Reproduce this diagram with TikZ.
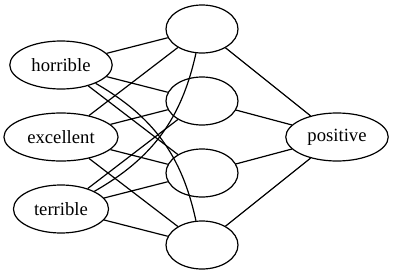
\documentclass[tikz,border=0pt]{standalone}
\usepackage{fontspec}
\setmainfont{Liberation Serif}
\usetikzlibrary{shapes}

\begin{document}
\begin{tikzpicture}[x=0.75pt, y=-0.75pt, line width=0.9pt,
		unit/.style={ellipse, draw, font=\fontsize{14}{16}\selectfont, inner xsep=5pt, inner ysep=2pt, minimum width=54pt, minimum height=36pt}]
	\useasboundingbox (0,0) rectangle (394,275);
	\foreach[count=\i] \word in {horrible,excellent,terrible} {
		\node[unit] (in-\i) at (61,{-7+72*\i}) {\word};
	}
	\foreach \j in {1,...,4} {
		\node[unit] (hid-\j) at (202,{-43+72*\j}) {};
	}
	\node[unit] (out) at (337,137) {positive};
	\foreach \i/\j in {1/1,1/2,1/3,2/1,2/2,2/3,2/4,3/2,3/3,3/4} {
		\draw (in-\i) -- (hid-\j);
	}
	\draw (in-1) to[bend left=24] (hid-4);
	\draw (in-3) to[bend right=24] (hid-1);
	\foreach \j in {1,...,4} {
		\draw (hid-\j) -- (out);
	}
\end{tikzpicture}
\end{document}
